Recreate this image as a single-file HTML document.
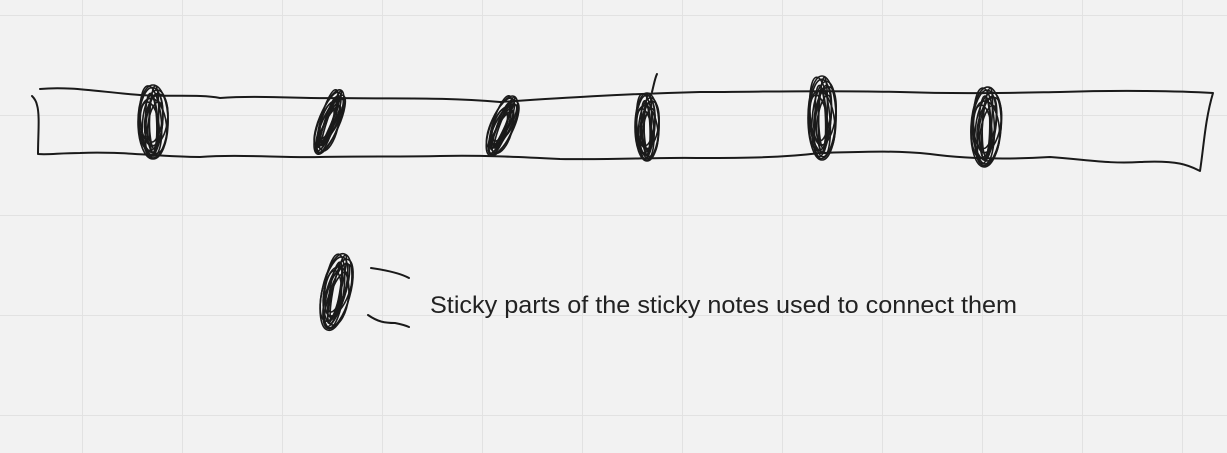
<!DOCTYPE html>
<html><head><meta charset="utf-8"><style>
html,body{margin:0;padding:0;background:#f2f2f2;}
svg{display:block;}
</style></head><body>
<svg id="cv" width="1227" height="453" viewBox="0 0 1227 453" xmlns="http://www.w3.org/2000/svg">
<g stroke="#e2e2e2" stroke-width="1">
<line x1="82.5" y1="0" x2="82.5" y2="453"/><line x1="182.5" y1="0" x2="182.5" y2="453"/><line x1="282.5" y1="0" x2="282.5" y2="453"/><line x1="382.5" y1="0" x2="382.5" y2="453"/><line x1="482.5" y1="0" x2="482.5" y2="453"/><line x1="582.5" y1="0" x2="582.5" y2="453"/><line x1="682.5" y1="0" x2="682.5" y2="453"/><line x1="782.5" y1="0" x2="782.5" y2="453"/><line x1="882.5" y1="0" x2="882.5" y2="453"/><line x1="982.5" y1="0" x2="982.5" y2="453"/><line x1="1082.5" y1="0" x2="1082.5" y2="453"/><line x1="1182.5" y1="0" x2="1182.5" y2="453"/>
<line x1="0" y1="15.5" x2="1227" y2="15.5"/><line x1="0" y1="115.5" x2="1227" y2="115.5"/><line x1="0" y1="215.5" x2="1227" y2="215.5"/><line x1="0" y1="315.5" x2="1227" y2="315.5"/><line x1="0" y1="415.5" x2="1227" y2="415.5"/>
</g>
<g id="ink" fill="none" stroke="#1a1a1a" stroke-width="2" stroke-linecap="round" stroke-linejoin="round">
<path d="M40,89 C70,86 100,92 140,95 C170,97 200,94 220,98 C260,95 300,99 340,98 C400,99 440,97 500,102 C560,98 620,94 700,92 C760,92 820,90 900,92 C960,94 1000,93 1060,92 C1120,90 1180,91 1213,93 C1205,120 1204,145 1200,171 C1190,166 1180,160 1140,162 C1110,164 1090,160 1050,157 C1000,160 960,158 930,154 C890,150 860,152 820,153 C780,158 740,158 700,158 C660,157 620,160 560,159 C520,157 480,155 440,156 C400,157 360,156 320,157 C280,158 240,154 200,157 C160,157 120,151 80,153 C60,153 48,155 38,154 C38,135 40,115 37,105 C36,100 33,97 32,96"/>
<path d="M652,92 C654,84 655,78 657,74"/>
<path d="M371,268 C385,270 400,273 409,278"/>
<path d="M368,315 C378,322 385,323 395,323 C400,324 405,325 409,327"/>
</g>
<text x="430" y="313" font-family="'Liberation Sans', sans-serif" font-size="24" fill="#222" textLength="587" lengthAdjust="spacingAndGlyphs">Sticky parts of the sticky notes used to connect them</text>
</svg>
<script>
var ns="http://www.w3.org/2000/svg";
var ink=document.getElementById('ink');
// blobs: name, cx, cy, rx, ry, rotation
var blobs=[["sticky-blob-1",153,122,15,37,0],["sticky-blob-2",329,122,10,34,20],["sticky-blob-3",502,126,11,32,22],["sticky-blob-4",647,127,12,34,0],["sticky-blob-5",822,118,14,42,0],["sticky-blob-6",986,127,15,40,3],["legend-sticky-blob",336,292,14,39,12]];
var vars=[[0,0,1,1,0],[2,2,0.85,0.92,4],[-2,-1,0.7,0.95,-5],[1,3,0.55,0.85,6],[-1,1,0.4,0.8,-3],[3,-2,0.75,0.7,8],[-3,2,0.6,0.6,-8],[1,-3,0.3,0.9,2],[0,4,0.9,0.75,-6],[2,0,0.45,0.55,10],[-2,-3,0.8,0.85,3],[0,1,0.25,0.7,-2]];
blobs.forEach(function(b){
  var g=document.createElementNS(ns,'g');
  
  
  vars.forEach(function(v){
    var e=document.createElementNS(ns,'ellipse');
    var cx=b[1]+v[0]*b[3]/14, cy=b[2]+v[1];
    e.setAttribute('cx',cx);e.setAttribute('cy',cy);
    e.setAttribute('rx',b[3]*v[2]);e.setAttribute('ry',b[4]*v[3]);
    e.setAttribute('transform','rotate('+(b[5]+v[4])+' '+cx+' '+cy+')');
    e.setAttribute('stroke-width','1.6');
    g.appendChild(e);
  });
  ink.appendChild(g);
});
</script>
</body></html>
